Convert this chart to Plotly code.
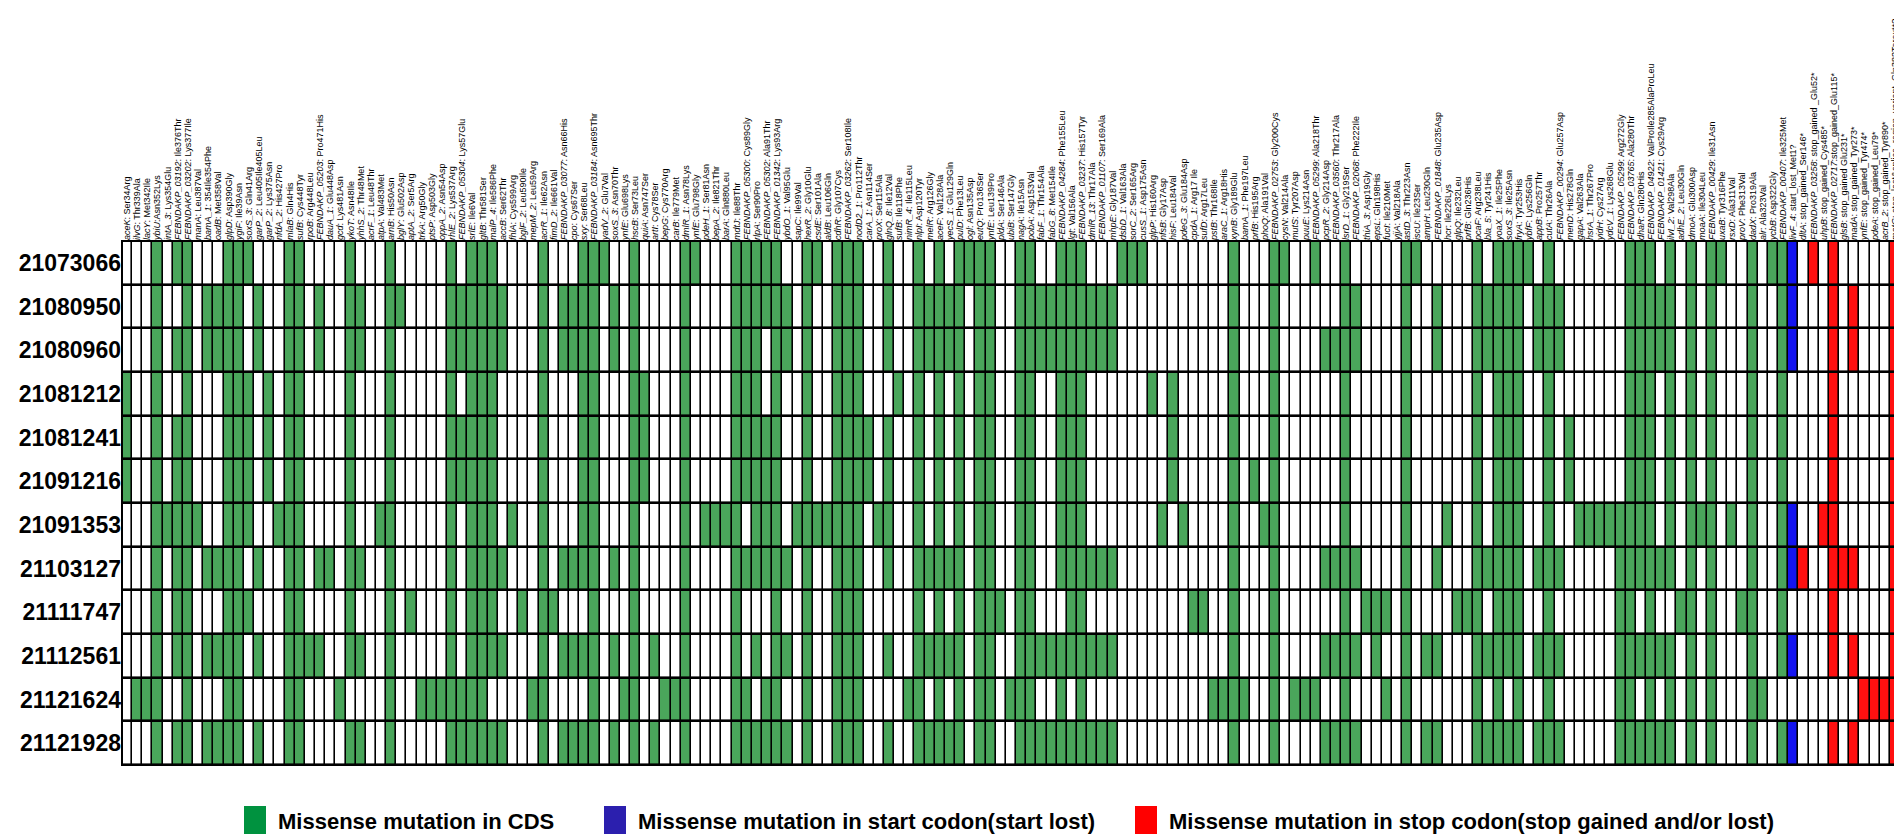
import plotly.graph_objects as go

# samples (rows, top to bottom)
samples = ["21073066", "21080950", "21080960", "21081212", "21081241", "21091216",
           "21091353", "21103127", "21111747", "21112561", "21121624", "21121928"]

# mutations (columns, left to right)
mutations = [
    "aceK: Ser34Arg", "ilvG: Thr339Ala", "lacY: Met342Ile", "ybiU:Asn352Lys", "intA_3: Lys354Glu",
    "FEBNDAKP_03192: Ile376Thr", "FEBNDAKP_03202: Lys377Ile", "manA: Leu387Val", "bamA_1: 354Ile354Phe",
    "oadB: Met358Val", "glpD: Asp390Gly", "ygiF: Ile39Asn", "soxS_3: Gln41Arg", "garP_2: Leu405Ile405Leu",
    "garP_2: Lys375Asn", "nfdA_2: His427Pro", "mlaB: Gln4His", "sufB: Cys448Tyr", "rpoB: Arg448Leu",
    "FEBNDAKP_05203: Pro471His", "dauA_1: Glu448Asp", "gcd: Lys481Asn", "ykoT: Asn48Ile", "yhhS_2: Thr48Met",
    "acrF_1: Leu48Thr", "atpA: Val483Met", "arnB: His50Asn", "bglY: Glu502Asp", "aptA_2: Ser5Arg",
    "trkA: Arg50Gly", "ptsP: Asp503Gly", "oppA_2: Asn54Asp", "rhlE_2: Lys537Arg", "FEBNDAKP_05304: Lys57Glu",
    "srlE: Ile6Val", "gltB: Thr581Ser", "malP_4: Ile586Phe", "accB: Ser62Thr", "fhlA: Cys599Arg",
    "bglF_2: Leu590Ile", "mepM_2: Leu59Arg", "acrR_1: Ile62Asn", "fimD_2: Ile661Val", "FEBNDAKP_03077: Asn66His",
    "cpo: Cys67Ser", "sxy: Ser68Leu", "FEBNDAKP_03184: Asn695Thr", "yadV_2: Glu7Val", "soxS_3: Asn70Thr",
    "ynfE: Glu698Lys", "hscB: Ser73Leu", "quiA: Asn747Ser", "artI: Cys78Ser", "bepG: Cys770Arg",
    "carB: Ile779Met", "dmlR_1: Asn78Lys", "ynfE: Glu798Gly", "pdeH_1: Ser81Asn", "bepA_2: Ile821Thr",
    "barA: Gln880Leu", "mdtJ: Ile88Thr", "FEBNDAKP_05300: Cys89Gly", "rlpA: Ser90Pro", "FEBNDAKP_05302: Ala91Thr",
    "FEBNDAKP_01342: Lys93Arg", "ybdO_1: Val95Glu", "sapC: Ile99Val", "hexR_2: Gly10Glu", "csdE: Ser101Ala",
    "aldB: Leu106Gln", "cdhR: Gly107Cys", "FEBNDAKP_03262: Ser108Ile", "nodD2_1: Pro112Thr", "carA_1: Asn114Ser",
    "proX: Ser115Ala", "glnQ_8: Ile12Val", "sufB: Ile118Phe", "nimR_4: Ile115Leu", "nlpI: Asp120Tyr",
    "melR: Arg126Gly", "aceF: Val128Ala", "yecS_1: Glu129Gln", "pulD: Phe13Leu", "ogl: Asn135Asp",
    "eutQ: Pro136Ser", "ynfE: Leu139Pro", "pldA: Ser146Ala", "ubiB: Ser147Gly", "nagA: Ile15Asn",
    "pobA: Asp153Val", "fabF_1: Thr154Ala", "fabG_8: Met154Ile", "FEBNDAKP_04284: Phe155Leu", "lgt: Val156Ala",
    "FEBNDAKP_03237: His157Tyr", "dmlR_13: Thr17Ala", "FEBNDAKP_01107: Ser169Ala", "mhpE: Gly187Val",
    "dsbD_1: Val163Ala", "sorC_2: Ser165Arg", "cusS_1: Asp175Asn", "glpP: His160Arg", "nfsB: Gly17Asp",
    "hisF: Leu184Val", "pdeG_3: Glu184Asp", "cpdA_1: Arg17 Ile", "sufD: Arg17Leu", "pstB: Thr168Ile",
    "araC_1: Arg18His", "xynB: Gly189Glu", "bamA_1: Phe197Leu", "prfB: His195Arg", "phoQ: Ala191Val",
    "FEBNDAKP_02753: Gly200Cys", "cysN: Val214Ala", "mutS: Tyr207Asp", "puuE: Lys214Asn",
    "FEBNDAKP_05299: Ala218Thr", "pcpR_2: Gly214Asp", "FEBNDAKP_03560: Thr217Ala", "lsrD_1: Gly219Ser",
    "FEBNDAKP_02068: Phe222Ile", "thiA_3: Asp19Gly", "epsL: Gln198His", "fucI: Ile210Met", "yjjA: Val218Ala",
    "astD_3: Thr223Asn", "iscU: Ile23Ser", "ampH: Leu230Gln", "FEBNDAKP_01848: Glu235Asp", "hcr: Ile226Lys",
    "glpQ: Ile232Leu", "prfB: Gln236His", "pcaF: Arg238Leu", "bla_5: Tyr241His", "yoaX_1: Ile25Phe",
    "soxS_3: Ile25Asn", "fryA: Tyr253His", "ybfF: Lys256Gln", "appB: Pro257Thr", "cutA: Thr26Ala",
    "FEBNDAKP_00294: Glu257Asp", "menD: His278Gln", "gapA: Val263Ala", "hsrA_1: Thr267Pro", "yidH: Cys27Arg",
    "ydcV_1: Lys268Glu", "FEBNDAKP_05299: Arg272Gly", "FEBNDAKP_03765: Ala280Thr", "dhaR: Gln280His",
    "FEBNDAKP_04922: ValProIle285AlaProLeu", "FEBNDAKP_01421: Cys29Arg", "ilvI_2: Val298Ala",
    "adhE_2: Leu30Gln", "dmoA: Glu300Asp", "moaA: Ile304Leu", "FEBNDAKP_00429: Ile31Asn", "uxaB: Tyr316Phe",
    "rsxD: Ala311Val", "proV: Phe313Val", "dadX: Pro319Ala", "alr: Ala323Val", "ycbB: Asp322Gly",
    "FEBNDAKP_00407: Ile325Met", "livF_4: start_lost_Met1?", "dltA: stop_gained_Ser146*",
    "FEBNDAKP_03258: stop_gained _Glu52*", "uhpB: stop_gained_Cys485*", "FEBNDAKP_02717:stop_gained_Glu115*",
    "glsB: stop_gained Glu231*", "madA: stop_gained_Tyr273*", "ynfE: stop_gained_Tyr474*",
    "pdeA: stop_gained_Leu79*", "acrB_2: stop_gained_Tyr890*",
    "metG: stop_lost&splice_region_variant_Gln382Terext*?",
]

# 1-based mutation columns hit in each sample, by type
cds_hits = [
    [4, 6, 7, 11, 12, 13, 17, 18, 23, 27, 33, 35, 36, 37, 42, 46, 47, 48, 51, 56, 57, 61, 62, 63, 64, 65, 68, 69,
     71, 72, 73, 76, 79, 81, 83, 84, 85, 86, 89, 90, 93, 94, 95, 99, 100, 101, 110, 114, 115, 118,
     121, 127, 128, 134, 136, 137, 138, 139, 141, 149, 150, 151, 153, 155, 157, 158, 161, 163, 164],
    [4, 7, 9, 10, 11, 12, 14, 17, 18, 20, 23, 24, 27, 28, 33, 34, 35, 36, 37, 38, 42, 44, 45,
     46, 47, 49, 51, 56, 61, 62, 63, 64, 65, 66, 68, 71, 72, 73, 76, 79, 80, 81, 82, 83, 85, 86, 89, 90, 91, 92,
     93, 94, 95, 96, 97, 98, 110, 114, 121, 122, 127, 130, 134, 135, 136, 137, 138, 140, 141, 142,
     149, 150, 151, 152, 153, 155, 157, 161, 164],
    [4, 6, 7, 9, 10, 11, 12, 14, 17, 18, 20, 23, 24, 27, 33, 34, 35, 36, 37, 38, 42, 44, 45,
     46, 47, 49, 51, 56, 61, 62, 63, 65, 66, 68, 71, 72, 73, 76, 79, 80, 81, 82, 83, 85, 86, 89, 90, 91, 92,
     93, 94, 95, 96, 97, 98, 110, 114, 119, 120, 121, 122, 127, 130, 134, 135, 136, 137, 138, 140, 141, 142,
     149, 150, 151, 152, 153, 155, 157, 161, 164],
    [1, 4, 7, 11, 12, 13, 15, 17, 18, 23, 27, 33, 35, 36, 37, 42, 46, 47, 51, 52, 56, 61, 62, 63, 65, 68,
     71, 72, 73, 77, 79, 81, 83, 85, 86, 89, 90, 93, 94, 95, 102, 104, 110, 114,
     121, 127, 134, 136, 137, 138, 141, 149, 150, 151, 153, 155, 157, 161, 164],
    [1, 4, 6, 7, 11, 12, 13, 15, 17, 18, 23, 27, 33, 34, 35, 36, 37, 42, 46, 47, 51, 52, 56, 61, 62, 63, 64, 65, 68,
     71, 72, 73, 74, 76, 79, 81, 83, 85, 86, 89, 90, 93, 94, 95, 104, 110, 114,
     121, 127, 134, 136, 137, 138, 141, 143, 149, 150, 151, 153, 155, 157, 161, 164],
    [1, 4, 6, 7, 11, 12, 13, 15, 17, 18, 23, 27, 33, 34, 35, 36, 37, 42, 46, 47, 51, 52, 56, 61, 62, 63, 64, 65, 68,
     71, 72, 73, 74, 76, 79, 81, 83, 85, 86, 89, 90, 93, 94, 95, 104, 110, 112, 114,
     121, 127, 134, 136, 137, 138, 141, 143, 149, 150, 151, 153, 155, 157, 161, 164],
    [4, 5, 6, 7, 8, 11, 12, 13, 16, 17, 18, 23, 26, 27, 33, 35, 36, 37, 39, 42,
     46, 47, 51, 56, 58, 59, 60, 61, 63, 64, 65, 67, 68, 69, 70, 71, 72, 73, 75, 76, 79, 81, 83, 85, 86, 89, 90,
     93, 94, 95, 103, 105, 110, 113, 114, 121, 127, 131, 134, 136, 137, 138, 141, 144, 145,
     146, 147, 148, 149, 150, 151, 153, 155, 156, 157, 159, 161, 164],
    [4, 6, 7, 9, 10, 11, 12, 14, 17, 18, 20, 21, 23, 24, 27, 33, 35, 36, 37, 38, 42, 44, 45,
     46, 47, 49, 51, 56, 61, 62, 63, 64, 65, 66, 68, 71, 72, 73, 76, 79, 80, 81, 82, 83, 85, 86, 89, 90,
     93, 94, 95, 96, 97, 98, 110, 114, 119, 120, 121, 122, 127, 130, 134, 135, 136, 137, 138, 140, 141, 142,
     148, 149, 150, 151, 152, 153, 155, 157, 161, 164],
    [4, 6, 7, 11, 12, 13, 17, 18, 23, 27, 29, 33, 35, 36, 37, 40, 42, 43, 47, 51, 56, 61, 65, 68,
     71, 72, 73, 79, 81, 83, 85, 86, 87, 89, 90, 94, 95, 106, 107, 110, 114,
     121, 123, 124, 125, 127, 132, 133, 134, 136, 137, 138, 141, 148, 149, 151, 154, 155, 157, 160, 161, 164],
    [4, 6, 7, 9, 10, 11, 12, 14, 17, 18, 19, 20, 23, 24, 27, 33, 35, 36, 37, 38, 42, 44, 45,
     46, 47, 49, 51, 53, 56, 61, 63, 65, 66, 68, 71, 72, 73, 76, 79, 80, 81, 82, 83, 85, 86, 89, 90, 91, 92,
     93, 94, 95, 96, 97, 98, 110, 114, 119, 120, 121, 122, 124, 127, 129, 130, 134, 135, 136, 137, 138, 140,
     141, 142, 148, 149, 150, 151, 152, 153, 155, 157, 161, 164],
    [2, 3, 4, 7, 11, 12, 17, 18, 22, 27, 30, 31, 32, 33, 34, 35, 36, 41, 42, 47, 50, 51, 54, 55, 56, 61, 62, 64,
     65, 68, 71, 72, 73, 78, 79, 81, 83, 85, 86, 88, 89, 90, 93, 95, 108, 109, 110, 111, 114, 116, 117, 118,
     121, 125, 127, 134, 136, 138, 141, 148, 149, 151, 153, 155, 157, 161, 162],
    [4, 6, 7, 9, 10, 11, 12, 14, 17, 18, 23, 24, 27, 33, 34, 35, 36, 37, 38, 42, 44, 45,
     46, 47, 49, 51, 53, 56, 61, 62, 63, 64, 65, 66, 68, 71, 72, 73, 76, 79, 80, 81, 82, 83, 85, 86, 89, 90, 91,
     92, 93, 94, 95, 96, 97, 98, 110, 114, 119, 120, 121, 122, 127, 129, 130, 134, 135, 136, 137, 138, 140,
     141, 142, 148, 149, 150, 151, 152, 153, 155, 157, 161, 164],
]
start_lost_hits = [[165], [165], [165], [], [], [], [165], [165], [], [165], [], [165]]
stop_hits = [
    [167, 169, 175], [169, 171, 175], [169, 171, 175], [169, 175], [169, 175], [169, 175],
    [168, 169, 175], [166, 169, 170, 171, 175], [169, 175], [169, 171, 175],
    [172, 173, 174, 175], [169, 171, 175],
]

GREEN = "#4aa65b"
BLUE = "#1414f0"
RED = "#ff1010"
FONT = "Arial, Liberation Sans"
W, H = 1902, 838
L, R, T, B = 114, 10, 233, 81


def buildMatrix():
    z = []
    for i in range(len(samples)):
        row = [0] * len(mutations)
        for c in cds_hits[i]:
            row[c - 1] = 1
        for c in start_lost_hits[i]:
            row[c - 1] = 2
        for c in stop_hits[i]:
            row[c - 1] = 3
        z.append(row)
    return z


def tickLabel(m):
    gene, change = m.split(":", 1)
    return "<i>" + gene + "</i>:" + change


def px(x):
    return (x - L) / (W - L - R)


def py(y):
    return (H - B - y) / (H - T - B)


z = buildMatrix()
colorscale = [[0, "white"], [0.25, "white"], [0.25, GREEN], [0.5, GREEN],
              [0.5, BLUE], [0.75, BLUE], [0.75, RED], [1, RED]]

fig = go.Figure(go.Heatmap(
    z=z, x=list(range(len(mutations))), y=list(range(len(samples))),
    colorscale=colorscale, zmin=-0.5, zmax=3.5, showscale=False,
    xgap=1.6, ygap=2.6, hoverinfo="skip"))

fig.update_xaxes(side="top", tickmode="array", tickvals=list(range(len(mutations))),
                 ticktext=[tickLabel(m) for m in mutations], tickangle=-90,
                 tickfont=dict(family=FONT, size=9, color="black"),
                 showgrid=False, zeroline=False, ticks="", range=[-0.5, len(mutations) - 0.5])
fig.update_yaxes(tickmode="array", tickvals=list(range(len(samples))), ticktext=samples,
                 autorange="reversed", tickfont=dict(family=FONT, size=23, color="black", weight="bold"),
                 showgrid=False, zeroline=False, ticks="")

fig.add_shape(type="rect", xref="paper", yref="paper", x0=0, x1=1, y0=0, y1=1,
              line=dict(color="black", width=2))

legendItems = [
    (236, "#00923f", "Missense mutation in CDS"),
    (596, "#2b1fae", "Missense mutation in start codon(start lost)"),
    (1127, "#ff0000", "Missense mutation in stop codon(stop gained and/or lost)"),
]
for x, color, text in legendItems:
    fig.add_shape(type="rect", xref="paper", yref="paper", x0=px(x), x1=px(x + 22),
                  y0=py(798), y1=py(826), fillcolor=color, line=dict(width=0))
    fig.add_annotation(xref="paper", yref="paper", x=px(x + 32), y=py(813), text="<b>" + text + "</b>",
                       showarrow=False, xanchor="left", yanchor="middle",
                       font=dict(family=FONT, size=22, color="black"))

fig.update_layout(width=W, height=H, margin=dict(l=L, r=R, t=T, b=B),
                  plot_bgcolor="black", paper_bgcolor="white")
fig.write_html("out.html")
